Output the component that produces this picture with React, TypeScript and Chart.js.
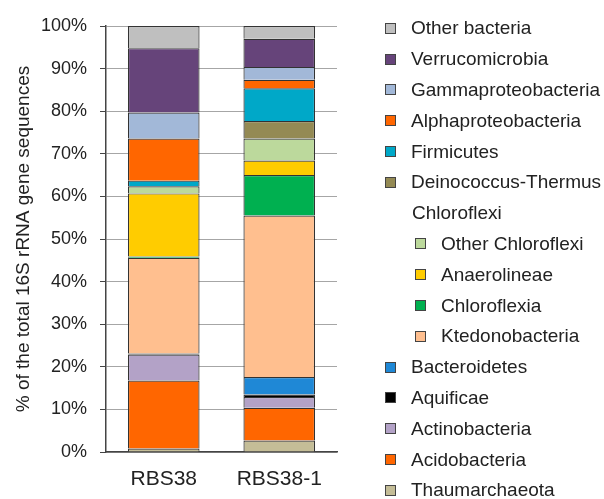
import React, { useEffect, useRef } from "react";
import { Chart, registerables } from "chart.js";

Chart.register(...registerables);

const categories = ["RBS38", "RBS38-1"];
const yTicks = [0, 10, 20, 30, 40, 50, 60, 70, 80, 90, 100];

// stacked bottom -> top
const thaumarchaeota = [0.8, 2.7];
const acidobacteria = [16.0, 7.7];
const actinobacteria = [6.1, 2.5];
const aquificae = [0.2, 0.6];
const bacteroidetes = [0, 4.1];
const ktedonobacteria = [22.5, 37.9];
const chloroflexia = [0.3, 9.5];
const anaerolineae = [14.8, 3.4];
const otherChloroflexi = [1.7, 5.2];
const deinococcusThermus = [0, 4.1];
const firmicutes = [1.3, 7.7];
const alphaproteobacteria = [9.9, 2.0];
const gammaproteobacteria = [6.1, 3.0];
const verrucomicrobia = [15.1, 6.6];
const otherBacteria = [5.2, 3.0];

const series = [
  { label: "Thaumarchaeota", data: thaumarchaeota, color: "#C4BD97" },
  { label: "Acidobacteria", data: acidobacteria, color: "#FF6600" },
  { label: "Actinobacteria", data: actinobacteria, color: "#B3A2C7" },
  { label: "Aquificae", data: aquificae, color: "#000000" },
  { label: "Bacteroidetes", data: bacteroidetes, color: "#1F88D6" },
  { label: "Ktedonobacteria", data: ktedonobacteria, color: "#FFBF8F" },
  { label: "Chloroflexia", data: chloroflexia, color: "#00B050" },
  { label: "Anaerolineae", data: anaerolineae, color: "#FFCC00" },
  { label: "Other Chloroflexi", data: otherChloroflexi, color: "#BCD99C" },
  { label: "Deinococcus-Thermus", data: deinococcusThermus, color: "#948A54" },
  { label: "Firmicutes", data: firmicutes, color: "#00A8C8" },
  { label: "Alphaproteobacteria", data: alphaproteobacteria, color: "#FF6600" },
  { label: "Gammaproteobacteria", data: gammaproteobacteria, color: "#A2B8D8" },
  { label: "Verrucomicrobia", data: verrucomicrobia, color: "#66447A" },
  { label: "Other bacteria", data: otherBacteria, color: "#BFBFBF" },
];

// legend (top -> bottom); header rows have no colour
const legendRows: { label: string; color: string | null; indent: boolean }[] = [
  { label: "Other bacteria", color: "#BFBFBF", indent: false },
  { label: "Verrucomicrobia", color: "#66447A", indent: false },
  { label: "Gammaproteobacteria", color: "#A2B8D8", indent: false },
  { label: "Alphaproteobacteria", color: "#FF6600", indent: false },
  { label: "Firmicutes", color: "#00A8C8", indent: false },
  { label: "Deinococcus-Thermus", color: "#948A54", indent: false },
  { label: "Chloroflexi", color: null, indent: false },
  { label: "Other Chloroflexi", color: "#BCD99C", indent: true },
  { label: "Anaerolineae", color: "#FFCC00", indent: true },
  { label: "Chloroflexia", color: "#00B050", indent: true },
  { label: "Ktedonobacteria", color: "#FFBF8F", indent: true },
  { label: "Bacteroidetes", color: "#1F88D6", indent: false },
  { label: "Aquificae", color: "#000000", indent: false },
  { label: "Actinobacteria", color: "#B3A2C7", indent: false },
  { label: "Acidobacteria", color: "#FF6600", indent: false },
  { label: "Thaumarchaeota", color: "#C4BD97", indent: false },
];

const FONT = "'Liberation Sans', Arial, sans-serif";

export default function App() {
  const ref = useRef<HTMLCanvasElement | null>(null);

  useEffect(() => {
    if (!ref.current) return;
    const chart = new Chart(ref.current, {
      type: "bar",
      data: {
        labels: categories,
        datasets: series.map((s) => ({
          label: s.label,
          data: s.data,
          backgroundColor: s.color,
          borderColor: "#333333",
          borderWidth: 1.2,
          barPercentage: 0.62,
          categoryPercentage: 1,
        })),
      },
      options: {
        responsive: false,
        animation: false,
        devicePixelRatio: 1,
        layout: { padding: { top: 26, right: 267, bottom: 0, left: 0 } },
        plugins: {
          legend: { display: false },
          tooltip: { enabled: false },
        },
        scales: {
          x: {
            stacked: true,
            grid: { display: false, drawTicks: false },
            border: { color: "#444", width: 1.5 },
            ticks: {
              padding: 15,
              color: "#222",
              font: { family: FONT, size: 21 },
            },
            afterFit: (s: any) => {
              s.height = 47;
            },
          },
          y: {
            stacked: true,
            min: 0,
            max: 100,
            afterBuildTicks: (s: any) => {
              s.ticks = yTicks.map((v) => ({ value: v }));
            },
            ticks: {
              padding: 13,
              color: "#222",
              font: { family: FONT, size: 18 },
              callback: (v: any) => v + "%",
            },
            grid: {
              color: "#A6A6A6",
              lineWidth: 1,
              tickLength: 6,
              tickColor: "#444",
            },
            border: { color: "#444", width: 1.5 },
            title: {
              display: true,
              text: "% of the total 16S rRNA gene sequences",
              color: "#222",
              font: { family: FONT, size: 19 },
              padding: { top: 12, bottom: 0 },
            },
            afterFit: (s: any) => {
              s.width = 106;
            },
          },
        },
      },
    });
    return () => chart.destroy();
  }, []);

  return (
    <div style={{ position: "absolute", left: 0, top: 0, width: 604, height: 499, background: "#fff" }}>
      <canvas ref={ref} width={604} height={499} style={{ position: "absolute", left: 0, top: 0 }} />
      {legendRows.map((r, i) => {
        const cy = 28.3 + i * 30.8;
        const boxX = r.indent ? 415 : 385;
        const textX = r.color === null ? 412 : r.indent ? 441 : 411;
        return (
          <div key={r.label}>
            {r.color !== null && (
              <div
                style={{
                  position: "absolute",
                  left: boxX,
                  top: cy - 5.5,
                  width: 9,
                  height: 9,
                  background: r.color,
                  border: "1px solid #444",
                }}
              />
            )}
            <div
              style={{
                position: "absolute",
                left: textX,
                top: cy - 11,
                height: 22,
                lineHeight: "22px",
                fontFamily: FONT,
                fontSize: 19,
                color: "#222",
                whiteSpace: "nowrap",
              }}
            >
              {r.label}
            </div>
          </div>
        );
      })}
    </div>
  );
}
